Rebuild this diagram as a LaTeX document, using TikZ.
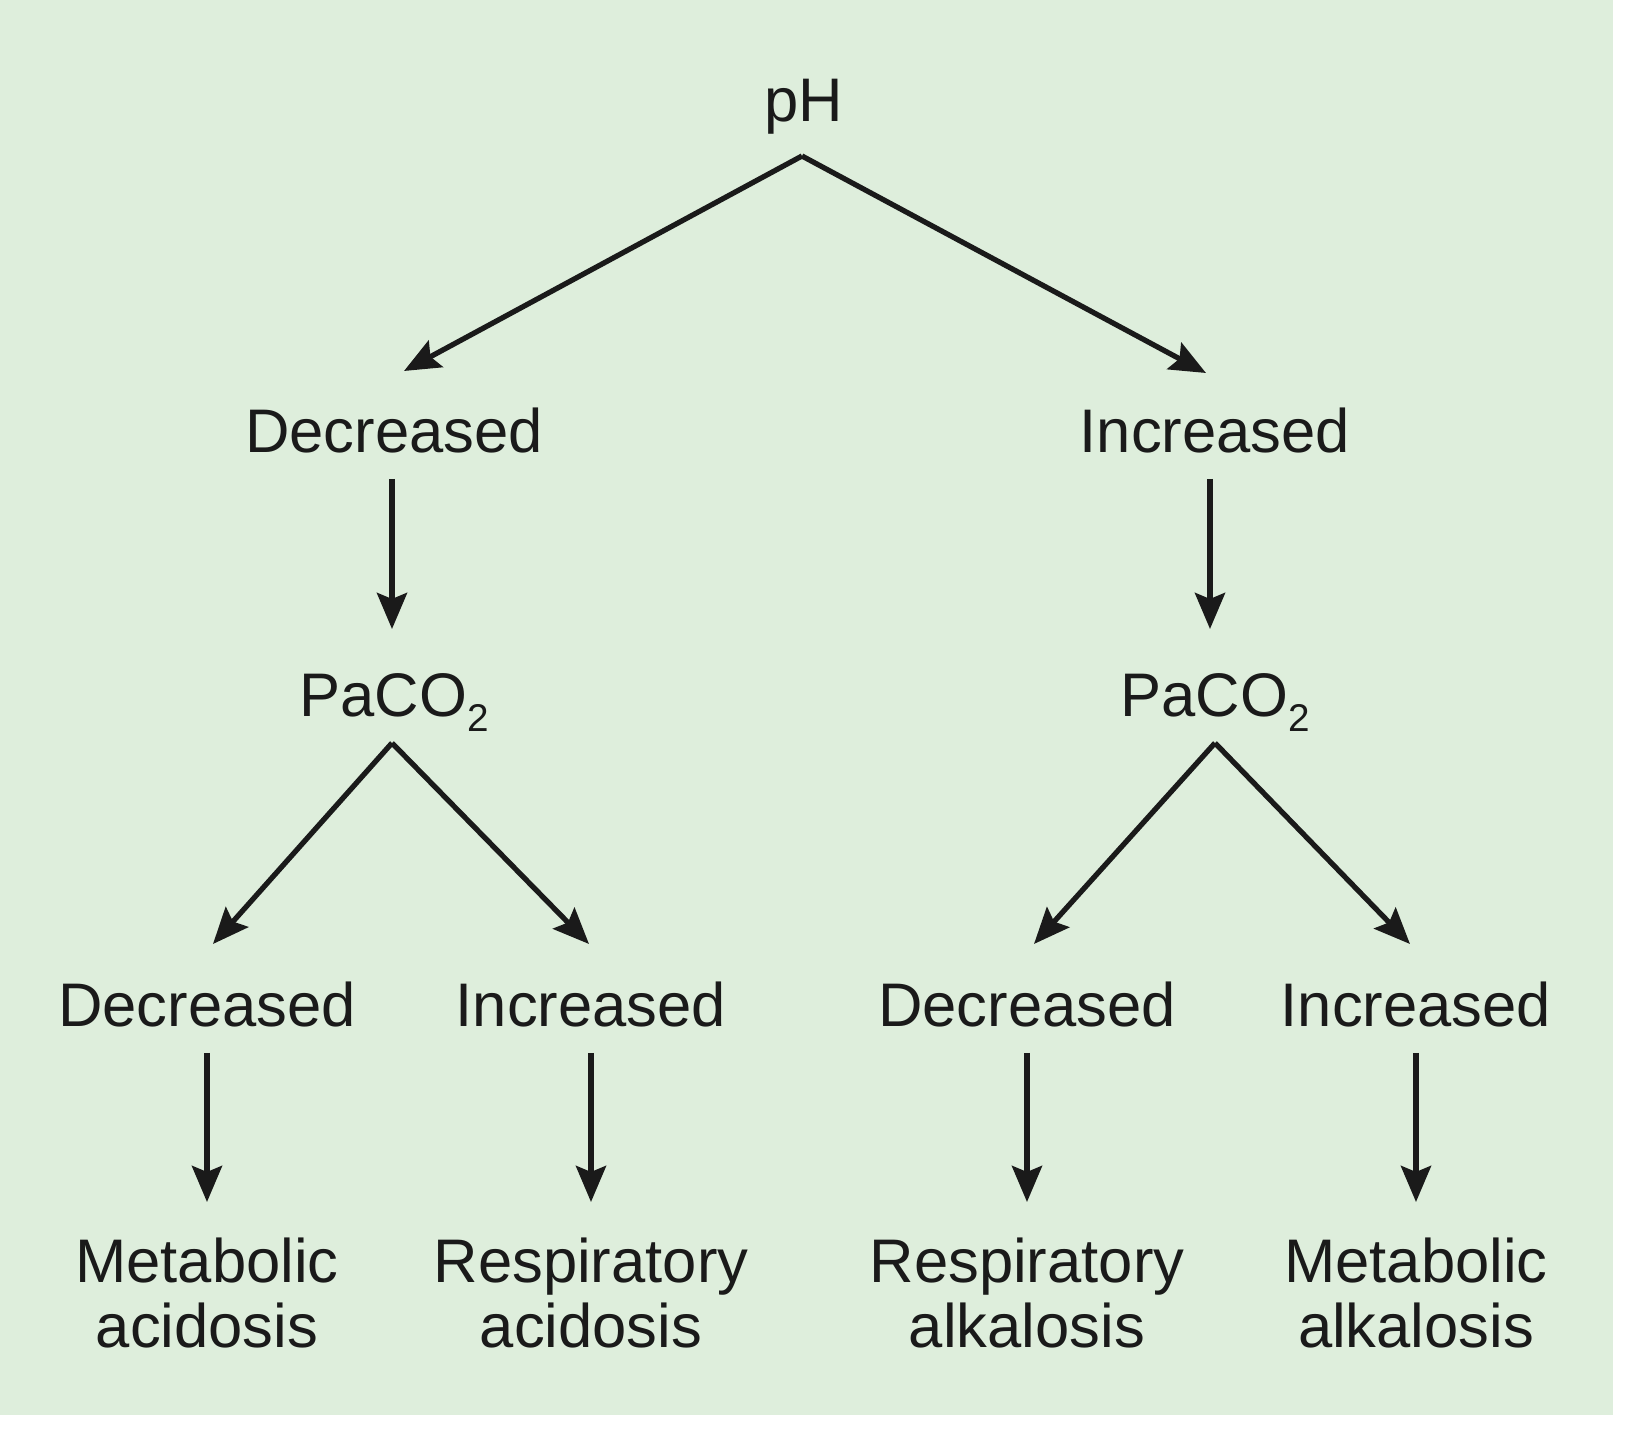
\documentclass[tikz,border=0pt]{standalone}
\usepackage{fontspec}
\setmainfont{Liberation Sans}
\usetikzlibrary{arrows.meta,calc}
\definecolor{bgcol}{HTML}{DEEEDC}
\definecolor{inkcol}{HTML}{1A1A1A}
\newcommand{\subtwo}{\raisebox{-0.45ex}{\fontsize{11}{11}\selectfont 2}}
\begin{document}
\begin{tikzpicture}[x=0.01cm,y=-0.01cm,
  lbl/.style={anchor=base,inner sep=0pt,text=inkcol,align=center,
    font=\fontsize{17.5}{18.6}\selectfont},
  arr/.style={draw=inkcol,line width=1.5pt,
    -{Stealth[length=3.6mm,width=3mm,inset=0.6mm]}}]
\useasboundingbox (0,0) rectangle (1626,1434);
\fill[bgcol] (0,0) rectangle (1613,1415);

\node[lbl] (ph) at (804,122) {pH};
\node[lbl] (dec) at (394,453) {Decreased};
\node[lbl] (inc) at (1215,453) {Increased};
\node[lbl] (pcoL) at (394,717) {PaCO\subtwo};
\node[lbl] (pcoR) at (1215,717) {PaCO\subtwo};
\node[lbl] (decL) at (207,1027) {Decreased};
\node[lbl] (incL) at (591,1027) {Increased};
\node[lbl] (decR) at (1027,1027) {Decreased};
\node[lbl] (incR) at (1416,1027) {Increased};
\node[lbl] (metAc) at (207,1348) {Metabolic\\acidosis};
\node[lbl] (resAc) at (591,1348) {Respiratory\\acidosis};
\node[lbl] (resAl) at (1027,1348) {Respiratory\\alkalosis};
\node[lbl] (metAl) at (1416,1348) {Metabolic\\alkalosis};

\draw[arr] ($(ph.base)+(-2,34)$) -- ($(dec.base)+(10,-82)$);
\draw[arr] ($(ph.base)+(-2,34)$) -- ($(inc.base)+(-9,-80)$);
\draw[arr] ($(dec.base)+(-2,26)$) -- ($(pcoL.base)+(-2,-88)$);
\draw[arr] ($(inc.base)+(-5,26)$) -- ($(pcoR.base)+(-5,-88)$);

\draw[arr] ($(pcoL.base)+(-2,26)$) -- ($(decL.base)+(6,-83)$);
\draw[arr] ($(pcoL.base)+(-2,26)$) -- ($(incL.base)+(-2,-83)$);
\draw[arr] ($(pcoR.base)+(0,26)$) -- ($(decR.base)+(7,-83)$);
\draw[arr] ($(pcoR.base)+(0,26)$) -- ($(incR.base)+(-6,-83)$);

\draw[arr] ($(decL.base)+(0,26)$) -- ($(metAc.base)+(0,-146)$);
\draw[arr] ($(incL.base)+(0,26)$) -- ($(resAc.base)+(0,-146)$);
\draw[arr] ($(decR.base)+(0,26)$) -- ($(resAl.base)+(0,-146)$);
\draw[arr] ($(incR.base)+(0,26)$) -- ($(metAl.base)+(0,-146)$);
\end{tikzpicture}
\end{document}
